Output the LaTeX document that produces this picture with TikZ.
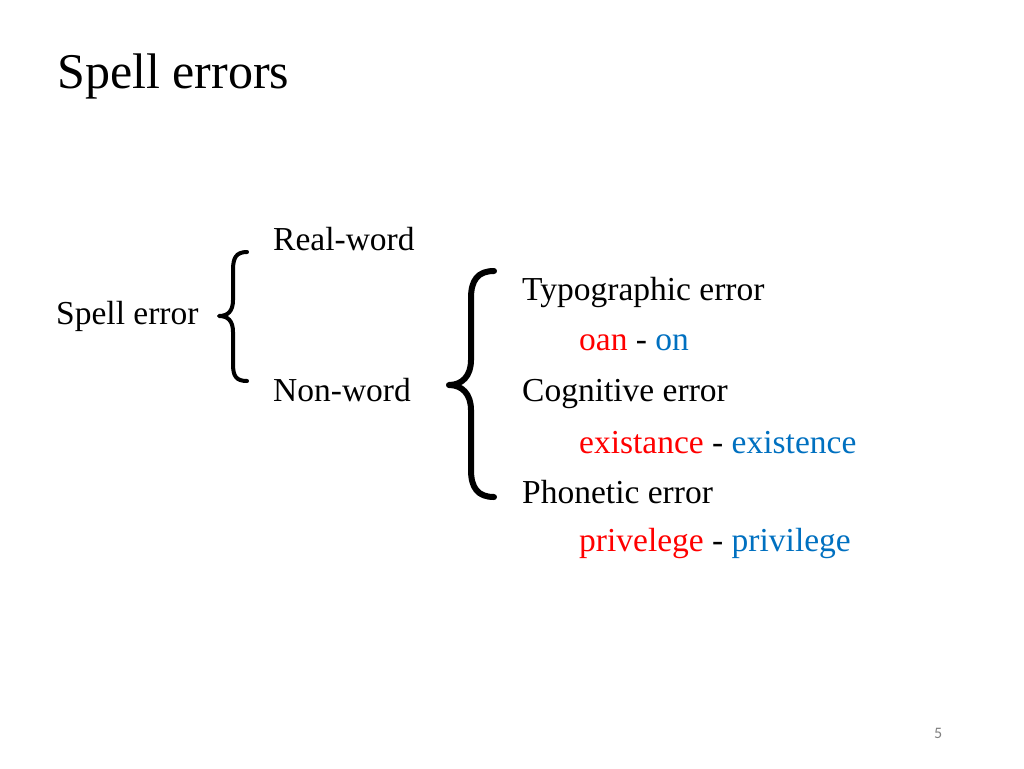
\documentclass[tikz,border=0pt]{standalone}
\usepackage{fontspec}
\setmainfont{Liberation Serif}
\newfontfamily\pagefont{Carlito}
\definecolor{ered}{RGB}{255,0,0}
\definecolor{eblue}{RGB}{0,112,192}
\begin{document}
\begin{tikzpicture}[x=1pt,y=-1pt,
  txt/.style={anchor=base west,inner sep=0pt,font=\fontsize{33.5}{40}\selectfont},
  brace/.style={line width=5pt,line cap=round,line join=round}]
\useasboundingbox (0,0) rectangle (1024,768);
\node[txt,font=\fontsize{50}{58}\selectfont] (title) at (57,88) {Spell errors};
\node[txt] (se) at (56,324) {Spell error};
\node[txt] (rw) at (273,250) {Real-word};
\node[txt] (nw) at (273,401) {Non-word};
\node[txt] (typo) at (522,300) {Typographic error};
\node[txt] (ex1) at (579,350) {\textcolor{ered}{oan} - \textcolor{eblue}{on}};
\node[txt] (cog) at (522,401) {Cognitive error};
\node[txt] (ex2) at (579,453) {\textcolor{ered}{existance} - \textcolor{eblue}{existence}};
\node[txt] (pho) at (522,503) {Phonetic error};
\node[txt] (ex3) at (579,551) {\textcolor{ered}{privelege} - \textcolor{eblue}{privilege}};
\node[anchor=base west,inner sep=0pt,text=gray,font=\pagefont\fontsize{16}{18}\selectfont] (pg) at (934,738) {5};
\draw[brace,line width=4pt] (247,252) .. controls (236,252) and (233,258) .. (233,270) -- (233,300) .. controls (233,311) and (228,316) .. (219,316) .. controls (228,316) and (233,321) .. (233,332) -- (233,364) .. controls (233,376) and (236,381) .. (247,381);
\draw[brace,line width=6pt] (494,271) .. controls (478,271) and (471,280) .. (471,298) -- (471,360) .. controls (471,376) and (462,385) .. (449,385) .. controls (462,385) and (471,394) .. (471,410) -- (471,470) .. controls (471,488) and (478,497) .. (494,497);
\end{tikzpicture}
\end{document}
